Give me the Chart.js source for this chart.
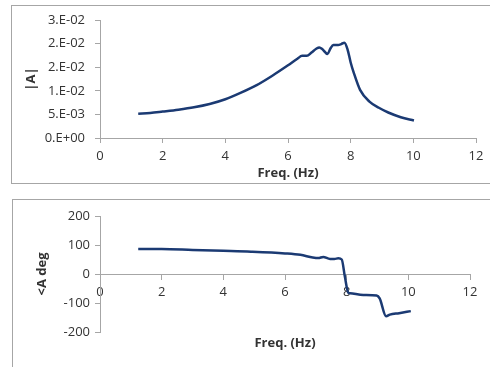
<!DOCTYPE html>
<html>
<head>
<meta charset="utf-8">
<script src="https://cdn.jsdelivr.net/npm/chart.js@4/dist/chart.umd.min.js"></script>
<style>
  body { margin: 0; background: #fff; width: 490px; height: 367px; overflow: hidden; position: relative; }
  .box { position: absolute; border: 1px solid #a6a6a6; }
  .wrap { position: absolute; left: 0; width: 490px; }
</style>
</head>
<body>
<div class="box" style="left:11px;top:5px;width:500px;height:177px"></div>
<div class="box" style="left:12px;top:199px;width:500px;height:200px"></div>
<div class="wrap" style="top:0;height:190px"><canvas id="ampChart"></canvas></div>
<div class="wrap" style="top:192px;height:175px"><canvas id="phaseChart"></canvas></div>
<script>
// amplitude |A| vs frequency
const ampFreq = [1.22, 1.6, 2.0, 2.5, 3.0, 3.5, 4.0, 4.5, 5.0, 5.5, 6.0, 6.3, 6.45, 6.6, 6.75, 6.9, 7.0, 7.1, 7.26, 7.35, 7.45, 7.6, 7.7, 7.8, 7.9, 8.0, 8.1, 8.3, 8.6, 8.9, 9.2, 9.6, 10.02];
const ampValues = [0.00515, 0.0053, 0.0056, 0.0060, 0.0065, 0.0072, 0.0082, 0.0096, 0.0112, 0.0132, 0.0154, 0.0168, 0.0174, 0.0174, 0.0181, 0.0189, 0.0192, 0.0188, 0.0178, 0.0189, 0.0197, 0.0197, 0.0199, 0.0202, 0.0188, 0.0160, 0.0138, 0.0102, 0.0077, 0.0064, 0.0054, 0.0044, 0.0037];
const ampTicks = ["0.E+00", "5.E-03", "1.E-02", "2.E-02", "2.E-02", "3.E-02"];

// phase <A vs frequency
const phaseFreq = [1.24, 2.0, 3.0, 4.0, 4.9, 6.0, 6.5, 6.9, 7.08, 7.24, 7.46, 7.6, 7.73, 7.84, 7.94, 8.05, 8.11, 8.54, 8.97, 9.07, 9.28, 9.4, 9.7, 10.08];
const phaseValues = [86, 86, 83, 80, 77, 71, 66, 57, 55, 59, 52, 52, 54, 50, -8, -64, -66, -72, -74, -84, -146, -140, -135, -128];

const lineColor = "#1b3a73";
const axisColor = "#a6a6a6";
const textColor = "#333";
const tickFont = { family: "Open Sans", size: 13 };
const titleFont = { family: "Open Sans", size: 13, weight: "bold" };

function toPoints(xs, ys) {
  return xs.map((x, i) => ({ x: x, y: ys[i] }));
}

const lineDataset = (xs, ys) => ({
  data: toPoints(xs, ys),
  borderColor: lineColor,
  borderWidth: 2.5,
  pointRadius: 0,
  fill: false,
  cubicInterpolationMode: "monotone"
});

const gridOpts = { drawOnChartArea: false, tickLength: 5, color: axisColor };

/* ================= |A| CHART ================= */
new Chart(document.getElementById("ampChart"), {
  type: "line",
  data: { datasets: [lineDataset(ampFreq, ampValues)] },
  options: {
    responsive: true,
    maintainAspectRatio: false,
    animation: false,
    layout: { padding: { left: 0, right: 14, top: 20, bottom: 0 } },
    plugins: { legend: { display: false }, tooltip: { enabled: false } },
    scales: {
      x: {
        type: "linear",
        min: 0, max: 12,
        grid: gridOpts,
        border: { color: axisColor },
        ticks: { stepSize: 2, font: tickFont, color: textColor, padding: 5, maxRotation: 0 },
        title: { display: true, text: "Freq. (Hz)", font: titleFont, color: textColor, padding: { top: 0, bottom: 9 } },
        afterFit: s => { s.height = 52; }
      },
      y: {
        min: 0, max: 0.025,
        grid: gridOpts,
        border: { color: axisColor },
        ticks: { stepSize: 0.005, font: tickFont, color: textColor, padding: 10, callback: (v, i) => ampTicks[i] },
        title: { display: true, text: "|A|", font: titleFont, color: textColor, padding: { top: 23, bottom: 0 } },
        afterFit: s => { s.width = 100; }
      }
    }
  }
});

/* ================= PHASE CHART ================= */
new Chart(document.getElementById("phaseChart"), {
  type: "line",
  data: { datasets: [lineDataset(phaseFreq, phaseValues)] },
  options: {
    responsive: true,
    maintainAspectRatio: false,
    animation: false,
    layout: { padding: { left: 0, right: 20, top: 24, bottom: 0 } },
    plugins: { legend: { display: false }, tooltip: { enabled: false } },
    scales: {
      x: {
        type: "linear",
        position: { y: 0 },
        min: 0, max: 12,
        grid: gridOpts,
        border: { color: axisColor },
        ticks: { stepSize: 2, font: tickFont, color: textColor, padding: 5, maxRotation: 0 },
        afterFit: s => { s.height = 0; }
      },
      x2: {
        type: "linear",
        position: "bottom",
        min: 0, max: 12,
        grid: { display: false },
        border: { display: false },
        ticks: { display: false },
        title: { display: true, text: "Freq. (Hz)", font: titleFont, color: textColor, padding: { top: 0, bottom: 16 } },
        afterFit: s => { s.height = 35; }
      },
      y: {
        min: -200, max: 200,
        grid: gridOpts,
        border: { color: axisColor },
        ticks: { stepSize: 100, font: tickFont, color: textColor, padding: 5 },
        title: { display: true, text: "<A deg", font: titleFont, color: textColor, padding: { top: 34, bottom: 0 } },
        afterFit: s => { s.width = 100; }
      }
    }
  }
});
</script>
</body>
</html>
